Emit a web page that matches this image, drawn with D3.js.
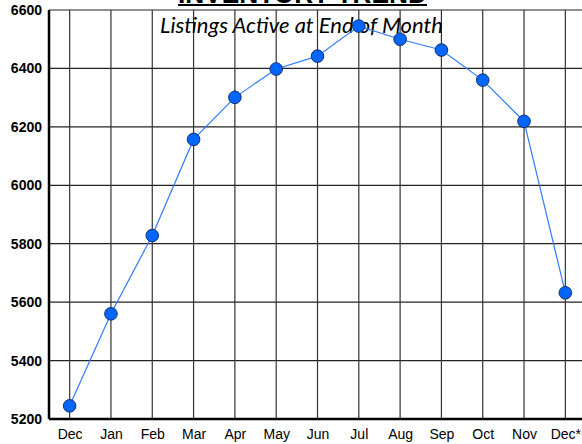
<!DOCTYPE html>
<html>
<head>
<meta charset="utf-8">
<script src="https://cdn.jsdelivr.net/npm/d3@7/dist/d3.min.js"></script>
<style>
  body { margin: 0; background: #fff; }
  svg { display: block; }
</style>
</head>
<body>
<div id="chart"></div>
<script>
// 차트 데이터
const months = ["Dec", "Jan", "Feb", "Mar", "Apr", "May", "Jun", "Jul", "Aug", "Sep", "Oct", "Nov", "Dec*"];
const listings = [5245, 5560, 5828, 6157, 6301, 6398, 6442, 6545, 6500, 6463, 6360, 6219, 5632];
const yTicks = [5200, 5400, 5600, 5800, 6000, 6200, 6400, 6600];

const width = 582, height = 444;
const margin = { top: 10, right: -4, bottom: 25, left: 49 };

const svg = d3.select("#chart")
  .append("svg")
  .attr("width", width)
  .attr("height", height);

const x = d3.scalePoint()
  .domain(months)
  .range([margin.left, width - margin.right])
  .padding(0.5);

const y = d3.scaleLinear()
  .domain([5200, 6600])
  .range([height - margin.bottom, margin.top]);

// 그리드
const grid = svg.append("g");
grid.selectAll("line.h")
  .data(yTicks)
  .join("line")
  .attr("x1", margin.left)
  .attr("x2", width)
  .attr("y1", d => y(d))
  .attr("y2", d => y(d))
  .attr("stroke", "#222")
  .attr("stroke-width", 1.2);

grid.selectAll("line.v")
  .data(months)
  .join("line")
  .attr("x1", d => x(d))
  .attr("x2", d => x(d))
  .attr("y1", y(6600))
  .attr("y2", y(5200))
  .attr("stroke", "#333")
  .attr("stroke-width", 1.2);

// 축
svg.append("line")
  .attr("x1", margin.left).attr("x2", margin.left)
  .attr("y1", y(6600)).attr("y2", y(5200))
  .attr("stroke", "#000").attr("stroke-width", 2.5);
svg.append("line")
  .attr("x1", margin.left).attr("x2", width)
  .attr("y1", y(5200)).attr("y2", y(5200))
  .attr("stroke", "#000").attr("stroke-width", 2.5);

const yAxis = svg.append("g")
  .attr("transform", `translate(${margin.left},0)`)
  .call(d3.axisLeft(y).tickValues(yTicks).tickSize(0).tickPadding(7).tickFormat(d3.format("d")));
yAxis.select(".domain").remove();
yAxis.selectAll("text")
  .attr("font-family", "Liberation Sans, Arial, sans-serif")
  .attr("font-size", 14)
  .attr("font-weight", "bold")
  .attr("fill", "#000");

const xAxis = svg.append("g")
  .attr("transform", `translate(0,${y(5200)})`)
  .call(d3.axisBottom(x).tickSize(0).tickPadding(10));
xAxis.select(".domain").remove();
xAxis.selectAll("text")
  .attr("font-family", "Liberation Sans, Arial, sans-serif")
  .attr("font-size", 14)
  .attr("fill", "#000");

// 제목
svg.append("text")
  .attr("x", 178)
  .attr("y", 3)
  .attr("textLength", 249)
  .attr("lengthAdjust", "spacingAndGlyphs")
  .attr("font-family", "Liberation Sans, Arial, sans-serif")
  .attr("font-size", 26)
  .attr("font-weight", "bold")
  .attr("fill", "#000")
  .text("INVENTORY TREND");
svg.append("line")
  .attr("x1", 178).attr("x2", 427)
  .attr("y1", 5).attr("y2", 5)
  .attr("stroke", "#000").attr("stroke-width", 2);

svg.append("text")
  .attr("x", 160)
  .attr("y", 33)
  .attr("textLength", 283)
  .attr("lengthAdjust", "spacingAndGlyphs")
  .attr("font-family", "Lato, 'Open Sans', sans-serif")
  .attr("font-style", "italic")
  .attr("font-size", 22)
  .attr("fill", "#000")
  .text("Listings Active at End of Month");

// 라인과 마커
const line = d3.line()
  .x((d, i) => x(months[i]))
  .y(d => y(d));

svg.append("path")
  .datum(listings)
  .attr("d", line)
  .attr("fill", "none")
  .attr("stroke", "#2f7bff")
  .attr("stroke-width", 1.2);

svg.selectAll("circle.pt")
  .data(listings)
  .join("circle")
  .attr("class", "pt")
  .attr("cx", (d, i) => x(months[i]))
  .attr("cy", d => y(d))
  .attr("r", 6.3)
  .attr("fill", "#0066ff")
  .attr("stroke", "#10306a")
  .attr("stroke-width", 1);
</script>
</body>
</html>
